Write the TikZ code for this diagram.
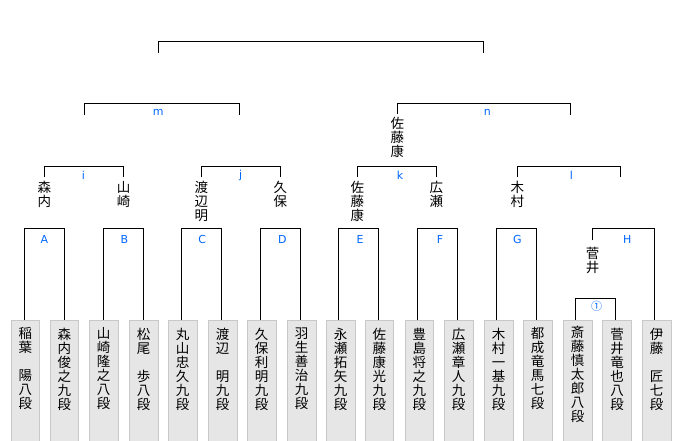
\documentclass[tikz,border=0pt]{standalone}
\usepackage{fontspec}
\newfontfamily\jpfont{Noto Sans CJK JP}
\newfontfamily\labfont{DejaVu Sans}
\definecolor{lblue}{HTML}{0066FF}
\definecolor{boxfill}{HTML}{E6E6E6}
\definecolor{boxedge}{HTML}{C8C8C8}
\tikzset{
  brk/.style={draw=black, line width=1pt},
  leafbox/.style={draw=boxedge, fill=boxfill, line width=0.8pt, minimum width=28.7pt, minimum height=125pt, anchor=north, inner sep=0pt},
  jname/.style={font=\jpfont\fontsize{13.5}{14}\selectfont, align=center, anchor=north, inner sep=0pt},
  lbl/.style={text=lblue, font=\labfont\fontsize{11}{11}\selectfont, inner sep=0pt}
}
\begin{document}
\begin{tikzpicture}[x=1pt,y=-1pt]
\useasboundingbox (0,0) rectangle (680,440);
% leaf boxes
\foreach \i/\x in {1/25.35,2/64.35,3/103.65,4/143.65,5/182.65,6/222.65,7/261.65,8/301.65,9/340.65,10/379.35,11/419.35,12/458.65,13/498.65,14/537.65,15/577.65,16/617.05,17/656.65}
  \node[leafbox] (L\i) at (\x,320) {};
% leaf names
\node[jname] (T1) at ([yshift=-7.5pt]L1.north) {稲\\葉\\　\\陽\\八\\段};
\node[jname] (T2) at ([yshift=-7.5pt]L2.north) {森\\内\\俊\\之\\九\\段};
\node[jname] (T3) at ([yshift=-7.5pt]L3.north) {山\\崎\\隆\\之\\八\\段};
\node[jname] (T4) at ([yshift=-7.5pt]L4.north) {松\\尾\\　\\歩\\八\\段};
\node[jname] (T5) at ([yshift=-7.5pt]L5.north) {丸\\山\\忠\\久\\九\\段};
\node[jname] (T6) at ([yshift=-7.5pt]L6.north) {渡\\辺\\　\\明\\九\\段};
\node[jname] (T7) at ([yshift=-7.5pt]L7.north) {久\\保\\利\\明\\九\\段};
\node[jname] (T8) at ([yshift=-7.5pt]L8.north) {羽\\生\\善\\治\\九\\段};
\node[jname] (T9) at ([yshift=-7.5pt]L9.north) {永\\瀬\\拓\\矢\\九\\段};
\node[jname] (T10) at ([yshift=-7.5pt]L10.north) {佐\\藤\\康\\光\\九\\段};
\node[jname] (T11) at ([yshift=-7.5pt]L11.north) {豊\\島\\将\\之\\九\\段};
\node[jname] (T12) at ([yshift=-7.5pt]L12.north) {広\\瀬\\章\\人\\九\\段};
\node[jname] (T13) at ([yshift=-7.5pt]L13.north) {木\\村\\一\\基\\九\\段};
\node[jname] (T14) at ([yshift=-7.5pt]L14.north) {都\\成\\竜\\馬\\七\\段};
\node[jname] (T15) at ([yshift=-6pt]L15.north) {斎\\藤\\慎\\太\\郎\\八\\段};
\node[jname] (T16) at ([yshift=-7.5pt]L16.north) {菅\\井\\竜\\也\\八\\段};
\node[jname] (T17) at ([yshift=-7.5pt]L17.north) {伊\\藤\\　\\匠\\七\\段};
% leg anchors on the leaf boxes
\foreach \i/\x in {1/24.3,2/64.3,3/103.3,4/143.3,5/181.3,6/221.3,7/260.3,8/300.3,9/338.3,10/378.3,11/417.3,12/457.3,13/496.3,14/536.3,15/575.3,16/615.3,17/654.3}
  \coordinate (P\i) at (\x,320);
% first-round brackets
\draw[brk] (P1) -- ++(0,-91.7) -| (P2);
\draw[brk] (P3) -- ++(0,-91.7) -| (P4);
\draw[brk] (P5) -- ++(0,-91.7) -| (P6);
\draw[brk] (P7) -- ++(0,-91.7) -| (P8);
\draw[brk] (P9) -- ++(0,-91.7) -| (P10);
\draw[brk] (P11) -- ++(0,-91.7) -| (P12);
\draw[brk] (P13) -- ++(0,-91.7) -| (P14);
\draw[brk] (P15) -- ++(0,-21.7) -| (P16);
\coordinate (Hl) at (592.7,240);
\draw[brk] (Hl) -- ++(0,-11.7) -| (P17);
% labels first round
\node[lbl] (lA) at (44.3,239) {A};
\node[lbl] (lB) at (124.3,239) {B};
\node[lbl] (lC) at (202.3,239) {C};
\node[lbl] (lD) at (282.3,239) {D};
\node[lbl] (lE) at (360,239) {E};
\node[lbl] (lF) at (440,239) {F};
\node[lbl] (lG) at (517.3,239) {G};
\node[lbl] (lH) at (627.3,239) {H};
\node[lbl, font=\jpfont\fontsize{11}{11}\selectfont] (l1) at (596.7,306.7) {①};
% winners
\node[jname] (W1) at (44.3,181) {森\\内};
\node[jname] (W2) at (123.7,181) {山\\崎};
\node[jname] (W3) at (201.3,181) {渡\\辺\\明};
\node[jname] (W4) at (280.3,181) {久\\保};
\node[jname] (W5) at (357.3,181) {佐\\藤\\康};
\node[jname] (W6) at (436.3,181) {広\\瀬};
\node[jname] (W7) at (517.3,181) {木\\村};
\node[jname] (W8) at (592.7,247) {菅\\井};
% second round brackets
\coordinate (Q1) at (44.3,177.3);
\coordinate (Q2) at (123.7,177.3);
\coordinate (Q3) at (201.3,177.3);
\coordinate (Q4) at (280.3,177.3);
\coordinate (Q5) at (357.3,177.3);
\coordinate (Q6) at (436.3,177.3);
\coordinate (Q7) at (517.3,177.3);
\coordinate (Q8) at (620.3,177.3);
\draw[brk] (Q1) -- ++(0,-11) -| (Q2);
\draw[brk] (Q3) -- ++(0,-11) -| (Q4);
\draw[brk] (Q5) -- ++(0,-11) -| (Q6);
\draw[brk] (Q7) -- ++(0,-11) -| (Q8);
\node[lbl] (li) at (83.3,175.7) {i};
\node[lbl] (lj) at (240.7,175.7) {j};
\node[lbl] (lk) at (400,175.7) {k};
\node[lbl] (ll) at (571.3,175.7) {l};
% semifinal brackets
\coordinate (R1) at (84.3,115);
\coordinate (R2) at (239.7,115);
\coordinate (R3) at (397.3,114.3);
\coordinate (R4) at (570.3,115);
\draw[brk] (R1) -- ++(0,-11.7) -| (R2);
\draw[brk] (R3) -- ++(0,-11) -| (R4);
\node[lbl] (lm) at (158.3,112.7) {m};
\node[lbl] (ln) at (487.3,112.7) {n};
\node[jname] (W9) at (397.3,117) {佐\\藤\\康};
% final bracket
\coordinate (S1) at (158.3,52.7);
\coordinate (S2) at (483.3,52.7);
\draw[brk] (S1) -- ++(0,-11) -| (S2);
\end{tikzpicture}
\end{document}
